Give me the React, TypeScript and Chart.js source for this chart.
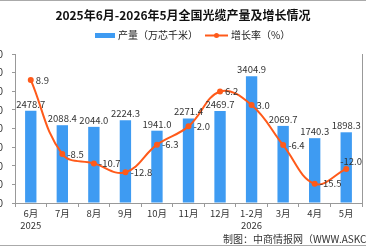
import React, { useEffect, useRef } from "react";
import { Chart, registerables } from "chart.js";

Chart.register(...registerables);

const categories: (string | string[])[] = [
  ["6月", "2025"], "7月", "8月", "9月", "10月", "11月", "12月", ["1-2月", "2026"], "3月", "4月", "5月",
];
const output = [2478.7, 2088.4, 2044.0, 2224.3, 1941.0, 2271.4, 2469.7, 3404.9, 2069.7, 1740.3, 1898.3];
const growth = [8.9, -8.5, -10.7, -12.8, -6.3, -2.0, 6.2, 3.0, -6.4, -15.5, -12.0];
const yTicks = [0, 500, 1000, 1500, 2000, 2500, 3000, 3500, 4000];
const y2Range = [-20, 15];

const TITLE = "2025年6月-2026年5月全国光缆产量及增长情况";
const LEGEND_BAR = "产量（万芯千米）";
const LEGEND_LINE = "增长率（%）";
const SOURCE = "制图：中商情报网（WWW.ASKCI.COM）";

const FONT = '"Noto Sans CJK SC", "Noto Sans", sans-serif';
const BLUE = "#3E9BF2";
const ORANGE = "#FF5A1A";

const decor = {
  id: "decor",
  afterDatasetsDraw(chart: any) {
    const ctx = chart.ctx;
    ctx.save();
    const barMeta = chart.getDatasetMeta(1);
    ctx.font = `9.5px ${FONT}`;
    ctx.fillStyle = "#333";
    ctx.textAlign = "center";
    ctx.textBaseline = "bottom";
    barMeta.data.forEach((el: any, i: number) => {
      ctx.fillText(output[i].toFixed(1), el.x, el.y - 2);
    });
    const lineMeta = chart.getDatasetMeta(0);
    ctx.textAlign = "left";
    ctx.textBaseline = "middle";
    const last = lineMeta.data.length - 1;
    lineMeta.data.forEach((el: any, i: number) => {
      if (i === last) {
        ctx.fillText(growth[i].toFixed(1), el.x - 6, el.y - 8);
      } else {
        ctx.fillText(growth[i].toFixed(1), el.x + 5, el.y);
      }
    });
    ctx.restore();
  },
  afterDraw(chart: any) {
    const ctx = chart.ctx;
    const w = chart.width;
    ctx.save();
    ctx.strokeStyle = "#aaa";
    ctx.lineWidth = 1;
    ctx.beginPath();
    ctx.moveTo(0, 0.5);
    ctx.lineTo(w, 0.5);
    ctx.moveTo(0, 245.5);
    ctx.lineTo(w, 245.5);
    ctx.stroke();
    ctx.fillStyle = "#111";
    ctx.font = `bold 12px ${FONT}`;
    ctx.textAlign = "center";
    ctx.textBaseline = "middle";
    ctx.fillText(TITLE, 183, 15);
    ctx.font = `10px ${FONT}`;
    ctx.textAlign = "left";
    ctx.fillStyle = BLUE;
    ctx.fillRect(95, 33, 20, 5);
    ctx.fillStyle = "#222";
    ctx.fillText(LEGEND_BAR, 118, 35.5);
    ctx.strokeStyle = ORANGE;
    ctx.lineWidth = 2;
    ctx.beginPath();
    ctx.moveTo(205, 35.5);
    ctx.lineTo(228, 35.5);
    ctx.stroke();
    ctx.fillStyle = ORANGE;
    ctx.beginPath();
    ctx.arc(216.5, 35.5, 2.5, 0, Math.PI * 2);
    ctx.fill();
    ctx.fillStyle = "#222";
    ctx.fillText(LEGEND_LINE, 231, 35.5);
    ctx.font = `10px ${FONT}`;
    ctx.fillStyle = "#333";
    ctx.fillText(SOURCE, 223, 239);
    ctx.restore();
  },
};

export default function App() {
  const ref = useRef<HTMLCanvasElement>(null);
  useEffect(() => {
    document.body.style.margin = "0";
    const chart = new Chart(ref.current!, {
      type: "bar",
      data: {
        labels: categories,
        datasets: [
          {
            type: "line",
            label: LEGEND_LINE,
            data: growth,
            yAxisID: "y2",
            borderColor: ORANGE,
            backgroundColor: ORANGE,
            borderWidth: 2,
            tension: 0.4,
            pointRadius: 3,
            pointBackgroundColor: ORANGE,
            pointBorderWidth: 0,
            order: 0,
          } as any,
          {
            type: "bar",
            label: LEGEND_BAR,
            data: output,
            yAxisID: "y",
            backgroundColor: BLUE,
            barPercentage: 0.36,
            categoryPercentage: 1,
            order: 1,
          },
        ],
      },
      options: {
        animation: false,
        responsive: false,
        layout: { padding: { top: 54, left: 0, right: 0, bottom: 0 } },
        plugins: { legend: { display: false }, title: { display: false }, tooltip: { enabled: false } },
        scales: {
          x: {
            afterFit: (s: any) => { s.height = 45; },
            grid: { display: true, drawOnChartArea: false, drawTicks: true, tickLength: 4, color: "#999", offset: true },
            border: { display: true, color: "#999" },
            ticks: { font: { size: 9.5, family: FONT }, color: "#333", padding: 1, maxRotation: 0, autoSkip: false },
          },
          y: {
            position: "left",
            min: yTicks[0],
            max: yTicks[yTicks.length - 1],
            afterBuildTicks: (s: any) => { s.ticks = yTicks.map((v) => ({ value: v })); },
            afterFit: (s: any) => { s.width = 15; },
            grid: { display: true, drawOnChartArea: false, drawTicks: true, tickLength: 3, color: "#999" },
            border: { display: true, color: "#999" },
            ticks: { font: { size: 10, family: FONT }, color: "#333", padding: 9 },
          },
          y2: {
            position: "right",
            min: y2Range[0],
            max: y2Range[1],
            afterFit: (s: any) => { s.width = 1; },
            grid: { display: false },
            border: { display: true, color: "#999" },
            ticks: { display: false },
          },
        },
      },
      plugins: [decor],
    });
    return () => chart.destroy();
  }, []);
  return <canvas ref={ref} width={366} height={248} style={{ display: "block" }} />;
}
